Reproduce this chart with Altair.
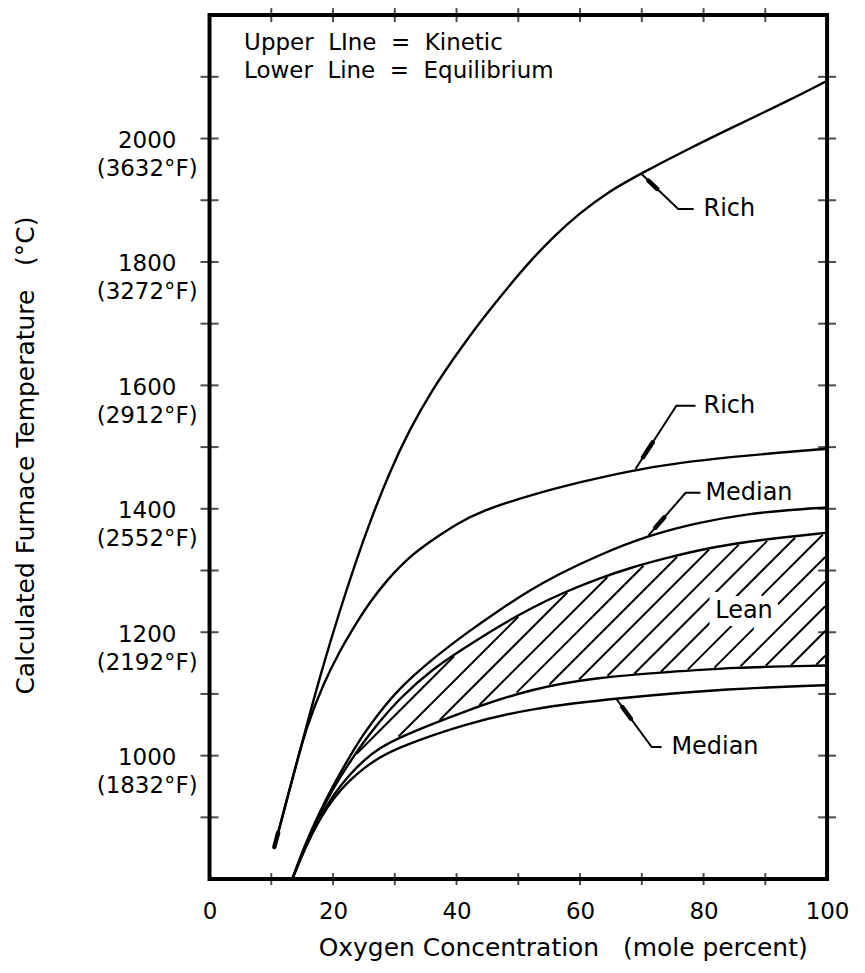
import altair as alt
import numpy as np
import pandas as pd

FONT = "DejaVu Sans"
SP = "\u00a0"

# ---- curves (x: mole % O2, y: deg C) ----
rich_kin_x = [10.5, 13.3, 15.7, 18.1, 21.0, 23.4, 26.2, 29.1, 32.3, 36.0, 40.1, 44.1, 48.5, 51.7, 55.7, 59.8, 64.6, 70.0, 77.5, 84.0, 93.7, 99.7]
rich_kin_y = [852, 958, 1048, 1136, 1232, 1306, 1385, 1458, 1527, 1592, 1652, 1707, 1761, 1799, 1841, 1878, 1914, 1944, 1983, 2015, 2061, 2092]

rich_eq_x = [10.5, 13.3, 15.7, 18.6, 21.0, 23.4, 25.9, 28.6, 32.3, 36.0, 40.1, 44.1, 52.2, 60.3, 68.3, 76.4, 84.5, 92.1, 99.7]
rich_eq_y = [852, 958, 1048, 1120, 1168, 1209, 1248, 1283, 1322, 1349, 1376, 1397, 1423, 1444, 1462, 1475, 1484, 1491, 1497]

med_kin_x = [13.4, 15.4, 17.8, 20.2, 22.6, 25.0, 27.5, 30.7, 36.0, 41.5, 46.9, 52.2, 56.5, 63.0, 71.1, 79.2, 87.2, 93.7, 99.7]
med_kin_y = [800, 855, 908, 955, 997, 1036, 1070, 1109, 1156, 1198, 1236, 1270, 1294, 1325, 1357, 1378, 1392, 1398, 1402]

lean_kin_x = [13.4, 15.4, 17.8, 20.2, 22.6, 25.0, 27.5, 30.7, 36.0, 41.5, 46.9, 52.2, 57.7, 63.0, 68.3, 73.8, 79.2, 84.5, 92.1, 99.7]
lean_kin_y = [800, 853, 905, 950, 988, 1023, 1055, 1092, 1140, 1176, 1210, 1240, 1266, 1287, 1305, 1320, 1333, 1343, 1353, 1361]

lean_eq_x = [13.4, 15.4, 17.8, 20.2, 22.6, 25.0, 27.5, 30.7, 41.5, 52.2, 63.0, 73.8, 84.5, 99.7]
lean_eq_y = [800, 850, 900, 939, 968, 993, 1012, 1030, 1073, 1109, 1127, 1135, 1143, 1146]

med_eq_x = [13.4, 15.4, 17.8, 20.2, 22.6, 25.0, 27.5, 30.7, 41.5, 52.2, 65.8, 84.5, 99.7]
med_eq_y = [800, 849, 897, 933, 959, 980, 997, 1014, 1052, 1077, 1093, 1109, 1114]

# ---- axis labels ----
x_label_values = [0, 20, 40, 60, 80, 100]
y_label_c = [1000, 1200, 1400, 1600, 1800, 2000]
y_label_f = ["(1832°F)", "(2192°F)", "(2552°F)", "(2912°F)", "(3272°F)", "(3632°F)"]
x_tick_values = [10, 20, 30, 40, 50, 60, 70, 80, 90]
y_tick_values = [900, 1000, 1100, 1200, 1300, 1400, 1500, 1600, 1700, 1800, 1900, 2000, 2100]

x_title = "Oxygen" + SP + "Concentration" + SP * 3 + "(mole" + SP + "percent)"
y_title = "Calculated" + SP + "Furnace" + SP + "Temperature" + SP * 3 + "(°C)"

# ---- annotations ----
note_text = ["Rich", "Rich", "Median", "Median"]
note_x = [80.0, 80.0, 80.3, 74.8]
note_y = [1886, 1567, 1426, 1014]
leader_tip_x = [70.0, 69.0, 71.1, 65.8]
leader_tip_y = [1942, 1465, 1357, 1093]
leader_bend_x = [75.9, 75.6, 77.1, 71.6]
leader_bend_y = [1886, 1567, 1426, 1014]
leader_end_x = [78.4, 78.7, 79.5, 73.2]

lean_text = ["Lean"]
lean_x = [81.9]
lean_y = [1235]

legend_text = ["Upper" + SP * 2 + "LIne" + SP * 2 + "=" + SP * 2 + "Kinetic",
               "Lower" + SP * 2 + "Line" + SP * 2 + "=" + SP * 2 + "Equilibrium"]
legend_x = [5.6, 5.6]
legend_y = [2154, 2109]

# ---- build tables ----
def curve_df(name, xs, ys):
    return pd.DataFrame({"x": xs, "y": ys, "id": name, "o": range(len(xs))})

curves = pd.concat([
    curve_df("rich_kin", rich_kin_x, rich_kin_y),
    curve_df("rich_eq", rich_eq_x, rich_eq_y),
    curve_df("med_kin", med_kin_x, med_kin_y),
    curve_df("lean_kin", lean_kin_x, lean_kin_y),
    curve_df("lean_eq", lean_eq_x, lean_eq_y),
    curve_df("med_eq", med_eq_x, med_eq_y),
], ignore_index=True)

# hatch lines clipped to the band between lean kinetic and lean equilibrium
hatch_slope = 10.0   # deg C per mole %  (45 degrees on screen)
hatch_step = 4.0
gx = np.arange(lean_kin_x[0], lean_kin_x[-1] + 1e-9, 0.02)
top = np.interp(gx, lean_kin_x, lean_kin_y)
bot = np.interp(gx, lean_eq_x, lean_eq_y)
rows = []
for k, c in enumerate(np.arange(-60.5, 140, hatch_step)):
    ly = 800 + hatch_slope * (gx - c)
    inside = (ly >= bot + 1.5) & (ly <= top - 2.5)
    idx = np.flatnonzero(inside)
    if idx.size < 2:
        continue
    runs = np.split(idx, np.flatnonzero(np.diff(idx) > 1) + 1)
    for j, run in enumerate(runs):
        if len(run) < 3:
            continue
        a, b = run[0], run[-1]
        rows.append({"x": gx[a], "y": ly[a], "id": f"h{k}_{j}", "o": 0})
        rows.append({"x": gx[b], "y": ly[b], "id": f"h{k}_{j}", "o": 1})
hatch = pd.DataFrame(rows)

leaders = []
heads = []
for i in range(len(note_text)):
    pts = [(leader_tip_x[i], leader_tip_y[i]), (leader_bend_x[i], leader_bend_y[i]), (leader_end_x[i], leader_bend_y[i])]
    for o, (px, py) in enumerate(pts):
        leaders.append({"x": px, "y": py, "id": f"l{i}", "o": o})
    (x0, y0), (x1, y1) = pts[0], pts[1]
    for o, f in enumerate([0.18, 0.42]):
        heads.append({"x": x0 + f * (x1 - x0), "y": y0 + f * (y1 - y0), "id": f"a{i}", "o": o})
# arrow head at the start of the upper curves
for o, f in enumerate([0.0, 0.22]):
    heads.append({"x": rich_kin_x[0] + f * (rich_kin_x[1] - rich_kin_x[0]),
                  "y": rich_kin_y[0] + f * (rich_kin_y[1] - rich_kin_y[0]), "id": "a_start", "o": o})
leaders = pd.DataFrame(leaders)
heads = pd.DataFrame(heads)

notes = pd.DataFrame({"x": note_x, "y": note_y, "t": note_text})
lean = pd.DataFrame({"x": lean_x, "y": lean_y, "t": lean_text})
legend = pd.DataFrame({"x": legend_x, "y": legend_y, "t": legend_text})

ticks_left = pd.DataFrame({"x": 0, "y": y_tick_values})
ticks_right = pd.DataFrame({"x": 100, "y": y_tick_values})
ticks_bottom = pd.DataFrame({"x": x_tick_values, "y": 800})
ticks_top = pd.DataFrame({"x": x_tick_values, "y": 2200})

# ---- scales & axes ----
xscale = alt.Scale(domain=[0, 100], nice=False, zero=False)
yscale = alt.Scale(domain=[800, 2200], nice=False, zero=False)

parts = []
for c, f in zip(y_label_c, y_label_f):
    parts.append(f"datum.value == {c} ? ['{c}', '{f}']")
y_label_expr = " : ".join(parts) + " : ''"

xaxis = alt.Axis(values=x_label_values, format="d", title=x_title,
                 grid=False, domain=False, ticks=False, tickSize=0, labelPadding=33,
                 labelBaseline="middle", labelFlush=False, labelOverlap=False,
                 labelFont=FONT, labelFontSize=23, labelColor="black",
                 titleFont=FONT, titleFontSize=25, titleFontWeight="normal", titleColor="black",
                 titleX=354, titleY=69, titleBaseline="middle", titleAlign="center")
yaxis = alt.Axis(values=y_label_c, labelExpr=y_label_expr, title=y_title,
                 grid=False, domain=False, ticks=False, tickSize=0, labelPadding=63,
                 labelAlign="center", labelBaseline="middle", labelOffset=2, labelLineHeight=28,
                 labelFlush=False, labelOverlap=False, labelBound=False,
                 labelFont=FONT, labelFontSize=23, labelColor="black",
                 titleFont=FONT, titleFontSize=25, titleFontWeight="normal", titleColor="black",
                 titleX=-184, titleY=441, titleBaseline="middle", titleAlign="center", titleAngle=270)

def X():
    return alt.X("x:Q", scale=xscale, axis=xaxis)

def Y():
    return alt.Y("y:Q", scale=yscale, axis=yaxis)

hatch_layer = alt.Chart(hatch).mark_line(color="black", strokeWidth=2.0).encode(
    x=X(), y=Y(), detail="id:N", order="o:Q")

lean_halo = alt.Chart(lean).mark_text(align="left", baseline="middle", font=FONT, fontSize=24,
                                      stroke="white", strokeWidth=16, fill="white").encode(
    x=X(), y=Y(), text="t:N")

curve_layer = alt.Chart(curves).mark_line(color="black", strokeWidth=2.4, interpolate="basis").encode(
    x=X(), y=Y(), detail="id:N", order="o:Q")

leader_layer = alt.Chart(leaders).mark_line(color="black", strokeWidth=2).encode(
    x=X(), y=Y(), detail="id:N", order="o:Q")
head_layer = alt.Chart(heads).mark_line(color="black", strokeWidth=4.5, strokeCap="round").encode(
    x=X(), y=Y(), detail="id:N", order="o:Q")

text_style = dict(align="left", baseline="middle", font=FONT, fontSize=24, color="black")
note_layer = alt.Chart(notes).mark_text(**text_style).encode(x=X(), y=Y(), text="t:N")
lean_layer = alt.Chart(lean).mark_text(**text_style).encode(x=X(), y=Y(), text="t:N")
legend_layer = alt.Chart(legend).mark_text(align="left", baseline="middle", font=FONT, fontSize=23,
                                           color="black").encode(x=X(), y=Y(), text="t:N")

tl = alt.Chart(ticks_left).mark_tick(orient="horizontal", size=18, thickness=2, color="black").encode(x=X(), y=Y())
tr = alt.Chart(ticks_right).mark_tick(orient="horizontal", size=18, thickness=2, color="black").encode(x=X(), y=Y())
tb = alt.Chart(ticks_bottom).mark_tick(orient="vertical", size=12, thickness=2, color="black").encode(x=X(), y=Y())
tt = alt.Chart(ticks_top).mark_tick(orient="vertical", size=14, thickness=2, color="black").encode(x=X(), y=Y())

chart = alt.layer(
    hatch_layer, lean_halo, curve_layer, leader_layer, head_layer,
    note_layer, lean_layer, legend_layer, tl, tr, tb, tt
).properties(
    width=619, height=866,
    autosize=alt.AutoSizeParams(type="none"),
    padding={"left": 202, "top": 6, "right": 30, "bottom": 85},
    background="white",
).configure_view(stroke="black", strokeWidth=4)

chart.save("out.html", embed_options={"renderer": "svg", "actions": False})
